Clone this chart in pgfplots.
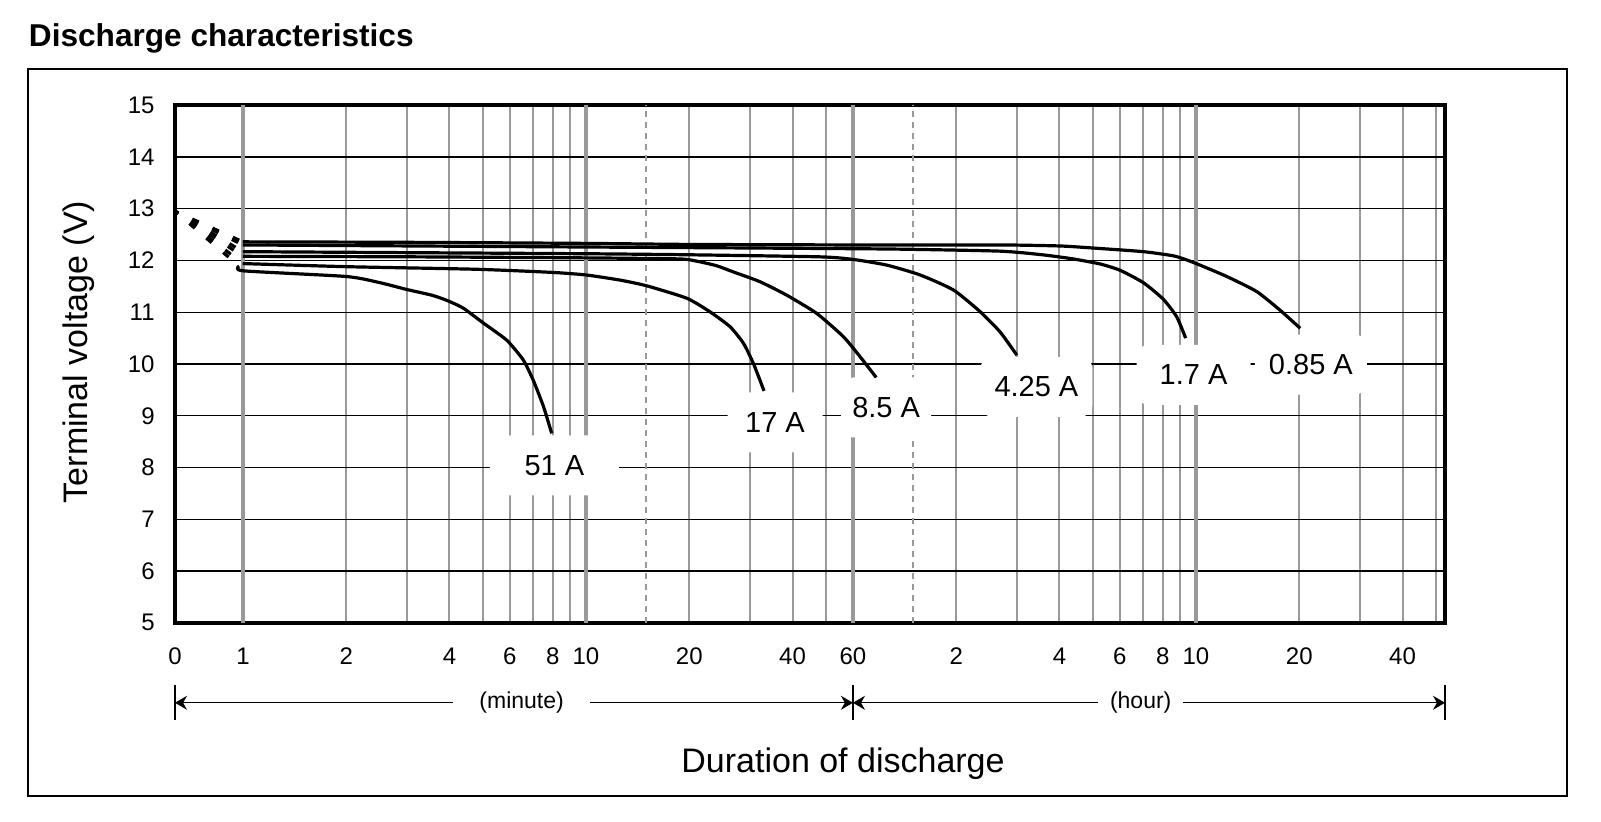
\documentclass[border=0pt]{standalone}
\usepackage{fontspec}
\setmainfont{Liberation Sans}
\usepackage{pgfplots}
\pgfplotsset{compat=1.18}
\usetikzlibrary{arrows.meta}

% x values are log10(duration in minutes)
\begin{document}
\begin{tikzpicture}
\begin{axis}[
  at={(0,0)}, anchor=south west,
  scale only axis, width=635pt, height=258.8pt,
  xmin=-0.198, xmax=3.504, ymin=5, ymax=15,
  clip=false,
  axis line style={line width=2pt},
  xtick={-0.198,0,0.30103,0.60206,0.778151,0.90309,1,1.30103,1.60206,1.778151,2.079181,2.380211,2.556303,2.681241,2.778151,3.079181,3.380211},
  xticklabels={0,1,2,4,6,8,10,20,40,60,2,4,6,8,10,20,40},
  ytick={5,6,7,8,9,10,11,12,13,14,15},
  yticklabels={5,6,7,8,9,10,11,12,13,14,15},
  major tick length=0pt, minor tick length=0pt,
  tick style={draw=none},
  ymajorgrids, xminorgrids,
  minor xtick={0.30103,0.477121,0.60206,0.69897,0.778151,0.845098,0.90309,0.954243,
               1.30103,1.477121,1.60206,1.69897,
               2.079181,2.255273,2.380211,2.477121,2.556303,2.623249,2.681241,2.732394,
               3.079181,3.255273,3.380211,3.477121},
  major grid style={black, line width=0.6pt},
  minor grid style={black!40, line width=1pt},
  extra x ticks={0,1,1.778151,2.778151},
  extra x tick labels={},
  extra x tick style={grid=major, major grid style={black!40, line width=2.2pt}},
  xticklabel style={anchor=center, yshift=-16.6pt, inner sep=0pt, font=\fontsize{12}{14}\selectfont},
  yticklabel style={anchor=east, xshift=-10pt, inner sep=0pt, font=\fontsize{12}{14}\selectfont},
]
% dotted grid lines at 15 min and 1.5 h
\draw[black!40, line width=1pt, dash pattern=on 3pt off 2.5pt] (axis cs:1.176091,5) -- (axis cs:1.176091,15);
\draw[black!40, line width=1pt, dash pattern=on 3pt off 2.5pt] (axis cs:1.954243,5) -- (axis cs:1.954243,15);

% curve labels with white boxes
\tikzset{lbl/.style={fill=white, inner sep=0pt, minimum height=30pt, rounded corners=6pt, font=\fontsize{14.5}{17}\selectfont}}
\node[lbl, minimum width=64.5pt] at (axis cs:0.908,8.04) {51 A};
\node[lbl, minimum width=47.5pt] at (axis cs:1.551,8.87) {17 A};
\node[lbl, minimum width=45pt] at (axis cs:1.875,9.16) {8.5 A};
\node[lbl, minimum width=56pt] at (axis cs:2.313,9.56) {4.25 A};
\node[lbl, minimum width=57pt] at (axis cs:2.771,9.79) {1.7 A};
\node[lbl, minimum width=56pt] at (axis cs:3.113,9.99) {0.85 A};

% initial voltage drop (dashed)
\pgfplotsset{ini/.style={black, line width=1.6pt, dash pattern=on 3.5pt off 7.6pt, dash phase=1.6pt}}
\addplot[ini] coordinates {(-0.198,12.95) (0,12.36)};
\addplot[ini] coordinates {(-0.198,12.95) (0,12.30)};
\addplot[ini] coordinates {(-0.198,12.95) (0,12.17)};
\addplot[ini] coordinates {(-0.198,12.95) (0,12.08)};
\addplot[ini] coordinates {(-0.198,12.95) (0,11.94)};
\addplot[ini] coordinates {(-0.198,12.95) (-0.011,11.89)};

% discharge curves
\pgfplotsset{crv/.style={black, line width=1.6pt, smooth, tension=0.35, line join=round}}
% 0.85 A
\addplot[crv] coordinates {(0,12.36) (0.5,12.35) (1.0,12.33) (1.3,12.31) (1.778,12.30) (2.207,12.30) (2.382,12.28) (2.479,12.24) (2.625,12.17) (2.712,12.09) (2.751,12.01) (2.790,11.91) (2.868,11.69) (2.955,11.40) (3.023,11.04) (3.082,10.69)};
% 1.7 A
\addplot[crv] coordinates {(0,12.30) (1.0,12.26) (1.5,12.24) (1.9,12.22) (2.207,12.18) (2.33,12.11) (2.42,12.03) (2.50,11.93) (2.557,11.81) (2.625,11.57) (2.683,11.25) (2.722,10.91) (2.748,10.50)};
% 4.25 A
\addplot[crv] coordinates {(0,12.17) (0.5,12.15) (1.0,12.13) (1.3,12.11) (1.682,12.07) (1.779,12.02) (1.877,11.91) (1.974,11.72) (2.071,11.43) (2.149,11.01) (2.207,10.62) (2.256,10.17)};
% 8.5 A
\addplot[crv] coordinates {(0,12.08) (0.5,12.07) (1.0,12.05) (1.27,12.03) (1.32,11.99) (1.38,11.90) (1.429,11.78) (1.507,11.59) (1.585,11.33) (1.672,10.98) (1.750,10.53) (1.799,10.14) (1.846,9.74)};
% 17 A
\addplot[crv] coordinates {(0,11.94) (0.302,11.88) (0.68,11.83) (0.90,11.77) (1.0,11.72) (1.1,11.62) (1.177,11.51) (1.294,11.27) (1.361,11.01) (1.420,10.72) (1.459,10.40) (1.488,10.01) (1.519,9.48)};
% 51 A
\addplot[crv] coordinates {(-0.011,11.89) (0.001,11.80) (0.302,11.69) (0.40,11.57) (0.477,11.44) (0.55,11.33) (0.594,11.23) (0.642,11.08) (0.701,10.79) (0.769,10.46) (0.817,10.08) (0.846,9.69) (0.876,9.18) (0.900,8.66)};

% minute / hour arrows below the axis
\draw[line width=0.6pt] ([yshift=-31pt]axis cs:-0.198,5) -- ([yshift=-48.5pt]axis cs:-0.198,5);
\draw[line width=0.6pt] ([yshift=-31pt]axis cs:1.778151,5) -- ([yshift=-48.5pt]axis cs:1.778151,5);
\draw[line width=0.6pt] ([yshift=-31pt]axis cs:3.504,5) -- ([yshift=-48.5pt]axis cs:3.504,5);
\draw[line width=0.6pt, {Stealth[length=6pt,width=7pt]}-{Stealth[length=6pt,width=7pt]}] ([yshift=-40pt]axis cs:-0.198,5) -- ([yshift=-40pt]axis cs:1.778151,5);
\draw[line width=0.6pt, {Stealth[length=6pt,width=7pt]}-{Stealth[length=6pt,width=7pt]}] ([yshift=-40pt]axis cs:1.778151,5) -- ([yshift=-40pt]axis cs:3.504,5);
\node[fill=white, inner xsep=13pt, inner ysep=2pt, font=\fontsize{11.5}{14}\selectfont] at ([yshift=-40pt]axis cs:0.8125,5) {(minute)};
\node[fill=white, inner xsep=6pt, inner ysep=2pt, font=\fontsize{11.5}{14}\selectfont] at ([yshift=-40pt]axis cs:2.617,5) {(hour)};

% axis labels
\node[font=\fontsize{17}{20}\selectfont] at ([yshift=-70.5pt]rel axis cs:0.526,0) {Duration of discharge};
\node[rotate=90, font=\fontsize{17}{20}\selectfont] at ([xshift=-48pt]rel axis cs:0,0.523) {Terminal voltage (V)};
\end{axis}
\draw[line width=1pt] (-73.7pt,-86.8pt) rectangle (696pt,277.05pt);
\node[anchor=base west, inner sep=0pt, font=\fontsize{15.8}{18}\selectfont\bfseries] at (-73.2pt,288.05pt) {Discharge characteristics};
\path (-87.5pt,-99.6pt) rectangle (713pt,311.4pt);
\end{tikzpicture}
\end{document}
